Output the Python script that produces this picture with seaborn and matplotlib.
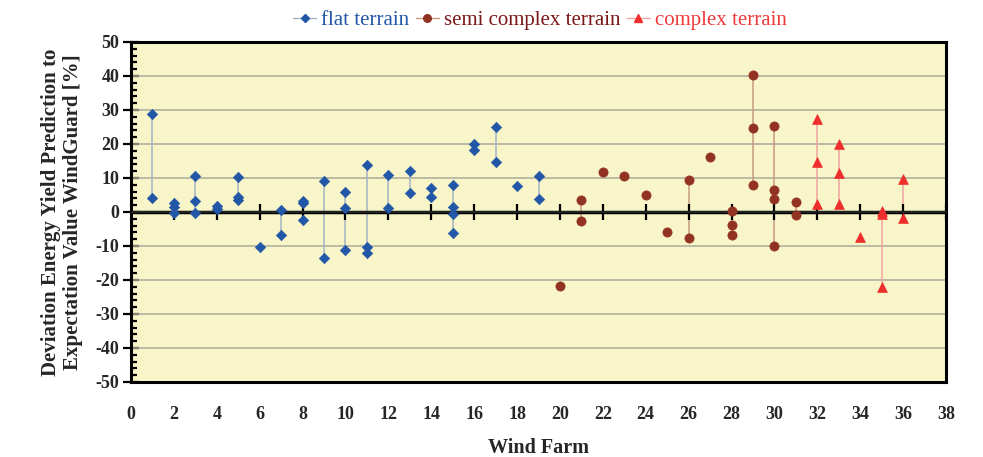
import matplotlib
matplotlib.use("Agg")
import matplotlib.pyplot as plt
from matplotlib.lines import Line2D
from matplotlib.ticker import MultipleLocator
import seaborn as sns
import pandas as pd
import numpy as np

# ---- data ----
flat_farm = [1, 1, 2, 2, 2, 3, 3, 3, 4, 4, 5, 5, 5, 6, 7, 7, 8, 8, 8, 9, 9,
             10, 10, 10, 11, 11, 11, 12, 12, 13, 13, 14, 14, 15, 15, 15, 15,
             16, 16, 17, 17, 18, 19, 19]
flat_dev = [28.7, 4.0, 2.7, 1.5, -0.2, 10.6, 3.3, -0.4, 1.8, 0.9, 10.3, 4.5, 3.5,
            -10.2, 0.5, -6.9, 3.2, 2.6, -2.4, 9.1, -13.4, 5.9, 1.2, -11.1,
            13.8, -10.4, -12.2, 11.0, 1.3, 12.1, 5.7, 7.2, 4.5, 7.9, 1.6, -0.7, -6.2,
            20.1, 18.2, 25.1, 14.7, 7.6, 10.7, 3.9]
semi_farm = [20, 21, 21, 22, 23, 24, 25, 26, 26, 27, 28, 28, 28, 29, 29, 29,
             30, 30, 30, 30, 31, 31]
semi_dev = [-21.7, 3.5, -2.6, 11.8, 10.7, 5.1, -6.0, 9.5, -7.7, 16.1,
            0.3, -3.8, -6.9, 40.4, 24.6, 7.9, 25.4, 6.5, 3.7, -10.0, 2.9, -1.0]
complex_farm = [32, 32, 32, 33, 33, 33, 34, 35, 35, 35, 36, 36]
complex_dev = [27.5, 14.6, 2.4, 20.0, 11.6, 2.3, -7.3, 0.4, -0.5, -22.0, 9.7, -1.9]

series = ["flat terrain", "semi complex terrain", "complex terrain"]
x_ticks = list(range(0, 40, 2))

df = pd.concat([
    pd.DataFrame({"farm": flat_farm, "dev": flat_dev, "terrain": series[0]}),
    pd.DataFrame({"farm": semi_farm, "dev": semi_dev, "terrain": series[1]}),
    pd.DataFrame({"farm": complex_farm, "dev": complex_dev, "terrain": series[2]}),
], ignore_index=True)

# ---- style ----
point_col = {series[0]: "#2157A6", series[1]: "#923222", series[2]: "#EE2D2D"}
line_col = {series[0]: "#A3B3C6", series[1]: "#C99A80", series[2]: "#F2A4A0"}
text_col = {series[0]: "#2157A6", series[1]: "#7A1616", series[2]: "#F03A3A"}
markers = {series[0]: "D", series[1]: "o", series[2]: "^"}
sizes = {series[0]: 28, series[1]: 44, series[2]: 50}

sns.set_theme(style="white")
plt.rcParams["font.family"] = ["Liberation Serif", "DejaVu Serif"]
plt.rcParams["axes.unicode_minus"] = False

fig = plt.figure(figsize=(9.83, 4.57), dpi=100)
ax = fig.add_axes([131 / 983, 1 - 382 / 457, 815 / 983, 340 / 457])
ax.set_facecolor("#F8F6C9")

# vertical range lines per farm
for t in series:
    sub = df[df.terrain == t]
    g = sub.groupby("farm")["dev"].agg(["min", "max"])
    ax.vlines(g.index, g["min"], g["max"], color=line_col[t], lw=1.1, zorder=2)

for t in series:
    sub = df[df.terrain == t]
    sns.scatterplot(data=sub, x="farm", y="dev", marker=markers[t], color=point_col[t],
                    s=sizes[t], edgecolor=point_col[t], linewidth=0.5, ax=ax,
                    zorder=5, legend=False)

ax.set_xlim(0, 38)
ax.set_ylim(-50, 50)

# grid
for yv in range(-40, 50, 10):
    if yv != 0:
        ax.axhline(yv, color="#ABAB9C", lw=1.1, zorder=1)
ax.axhline(0, color="black", lw=2.5, zorder=3)

for s in ax.spines.values():
    s.set_color("black")
    s.set_linewidth(2.2)
    s.set_visible(True)

ax.yaxis.set_major_locator(MultipleLocator(10))
ax.yaxis.set_minor_locator(MultipleLocator(2))
ax.tick_params(axis="y", which="major", direction="inout", length=11, width=1.6,
               labelsize=13, pad=3, left=True, color="black")
ax.tick_params(axis="y", which="minor", direction="in", length=4, width=1.6, left=True,
               color="black")
ax.set_xticks(x_ticks)
ax.tick_params(axis="x", which="major", length=0, labelsize=13, pad=17)
for lab in ax.get_xticklabels() + ax.get_yticklabels():
    lab.set_fontweight("bold")

# crossing ticks on the zero line
sec = ax.secondary_xaxis(0.5)
sec.set_xticks(x_ticks[1:])
sec.tick_params(direction="inout", length=11, width=1.6, color="black", labelbottom=False)
sec.spines["bottom"].set_visible(False)
sec.set_xticklabels([])
sec.set_zorder(4)

ax.set_xlabel("Wind Farm", fontsize=14.5, fontweight="bold", labelpad=11)
ax.set_ylabel("Deviation Energy Yield Prediction to\nExpectation Value WindGuard [%]",
              fontsize=15, fontweight="bold", labelpad=9, linespacing=1.15)

handles = [Line2D([0], [0], color=line_col[t], lw=1, marker=markers[t],
                  markersize={"D": 4.5, "o": 5.5, "^": 6}[markers[t]],
                  markerfacecolor=point_col[t], markeredgecolor=point_col[t])
           for t in series]
leg = fig.legend(handles, series, loc="center", bbox_to_anchor=(540 / 983, 1 - 20 / 457),
                 ncol=3, frameon=False, fontsize=15, handlelength=1.1, handletextpad=0.25,
                 columnspacing=0.3)
for txt, t in zip(leg.get_texts(), series):
    txt.set_color(text_col[t])

fig.savefig("out.png", dpi=100)
